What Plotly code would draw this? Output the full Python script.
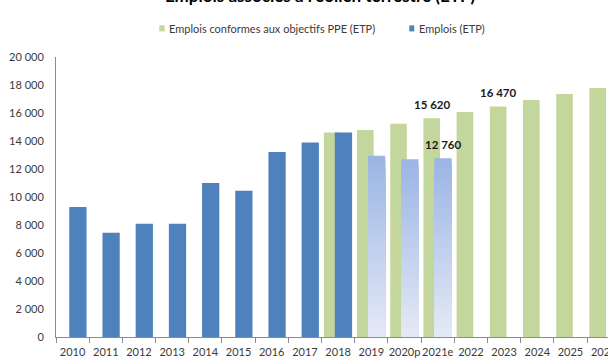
import plotly.graph_objects as go

# Categories and series
annees = ["2010", "2011", "2012", "2013", "2014", "2015", "2016", "2017", "2018",
          "2019", "2020p", "2021e", "2022", "2023", "2024", "2025", "2026"]
emplois_etp = [9290, 7450, 8090, 8090, 11000, 10450, 13210, 13900, 14600,
               None, None, None, None, None, None, None, None]
emplois_estimes = [None, None, None, None, None, None, None, None, None,
                   12950, 12700, 12760, None, None, None, None, None]
objectifs_ppe = [None, None, None, None, None, None, None, None, 14610,
                 14790, 15240, 15620, 16070, 16470, 16930, 17360, 17790]

# Values printed above bars: (category, series, value)
etiquettes = [("2021e", "ppe", 15620), ("2023", "ppe", 16470), ("2021e", "emplois", 12760)]

titre = "Emplois associés à l'éolien terrestre (ETP)"
nom_ppe = "Emplois conformes aux objectifs PPE (ETP)"
nom_emplois = "Emplois (ETP)"

VERT = "#C3D69B"
BLEU = "#4F81BD"
GRAD_HAUT = (155, 181, 228)
GRAD_BAS = (228, 233, 246)

FONT = "Lato"
GREY_TXT = "#3a3a3a"
AXIS_GREY = "#8C8C8C"

W_PPE, OFF_PPE = 0.50, -0.43
W_EMP, OFF_EMP = 0.52, -0.10

fig = go.Figure()

fig.add_trace(go.Bar(x=annees, y=objectifs_ppe, name=nom_ppe, marker_color=VERT,
                     width=W_PPE, offset=OFF_PPE, showlegend=False,
                     marker_line_width=0))
fig.add_trace(go.Bar(x=annees, y=emplois_etp, name=nom_emplois, marker_color=BLEU,
                     width=W_EMP, offset=OFF_EMP, showlegend=False,
                     marker_line_width=0))

# Estimated years: vertical gradient built from stacked layers, darkest at the top
N_COUCHES = 40
for k in range(N_COUCHES):
    frac = 1 - k / N_COUCHES
    t = k / (N_COUCHES - 1)
    r, g, b = (round(GRAD_HAUT[i] + (GRAD_BAS[i] - GRAD_HAUT[i]) * t) for i in range(3))
    vals = [None if v is None else v * frac for v in emplois_estimes]
    fig.add_trace(go.Bar(x=annees, y=vals, marker_color=f"rgb({r},{g},{b})",
                         width=W_EMP, offset=OFF_EMP, showlegend=False,
                         marker_line_width=0, hoverinfo="skip"))

annotations = []
for cat, serie, val in etiquettes:
    w, off = (W_PPE, OFF_PPE) if serie == "ppe" else (W_EMP, OFF_EMP)
    annotations.append(dict(
        x=annees.index(cat) + off + w / 2, y=val, xref="x", yref="y",
        text=f"{val:,}".replace(",", " "),
        showarrow=False, yanchor="bottom", yshift=5,
        font=dict(family=FONT, size=11.5, color="#1a1a1a", weight="bold")))

# Title (mostly above the visible area)
annotations.append(dict(x=0.478, y=1.0, xref="paper", yref="paper", yshift=62,
                        text=f"<b>{titre}</b>", showarrow=False,
                        yanchor="middle", xanchor="center",
                        font=dict(family=FONT, size=17, color="#000000")))

# Legend entries drawn as text next to small squares
annotations.append(dict(x=0.2005, y=1.101, xref="paper", yref="paper", text=nom_ppe,
                        showarrow=False, xanchor="left", yanchor="middle",
                        font=dict(family=FONT, size=11, color=GREY_TXT)))
annotations.append(dict(x=0.6534, y=1.101, xref="paper", yref="paper", text=nom_emplois,
                        showarrow=False, xanchor="left", yanchor="middle",
                        font=dict(family=FONT, size=11, color=GREY_TXT)))

shapes = [
    dict(type="rect", xref="paper", yref="paper", x0=0.1871, x1=0.1969,
         y0=1.0914, y1=1.1129, fillcolor=VERT, line_width=0),
    dict(type="rect", xref="paper", yref="paper", x0=0.6400, x1=0.6490,
         y0=1.0914, y1=1.1129, fillcolor=BLEU, line_width=0),
]

fig.update_layout(
    template="none",
    width=608, height=359,
    margin=dict(l=56, r=0, t=57, b=22, pad=0),
    paper_bgcolor="white", plot_bgcolor="white",
    barmode="overlay",
    separators=", ",
    showlegend=False,
    annotations=annotations,
    shapes=shapes,
    font=dict(family=FONT, size=11, color=GREY_TXT),
)

fig.update_xaxes(
    type="category", range=[-0.5, 16.13], automargin=False,
    showline=True, linecolor=AXIS_GREY, linewidth=1,
    ticks="outside", tickson="boundaries", ticklen=5, tickcolor=AXIS_GREY,
    showgrid=False, zeroline=False, tickangle=0, ticklabelstandoff=5,
    tickfont=dict(family=FONT, size=11, color=GREY_TXT),
)
fig.update_yaxes(
    range=[0, 20000], dtick=2000, tick0=0, tickformat=",d", automargin=False,
    showline=True, linecolor=AXIS_GREY, linewidth=1,
    ticks="", showgrid=False, zeroline=False, ticklabelstandoff=9,
    tickfont=dict(family=FONT, size=11, color=GREY_TXT),
)

fig.write_html("out.html")
